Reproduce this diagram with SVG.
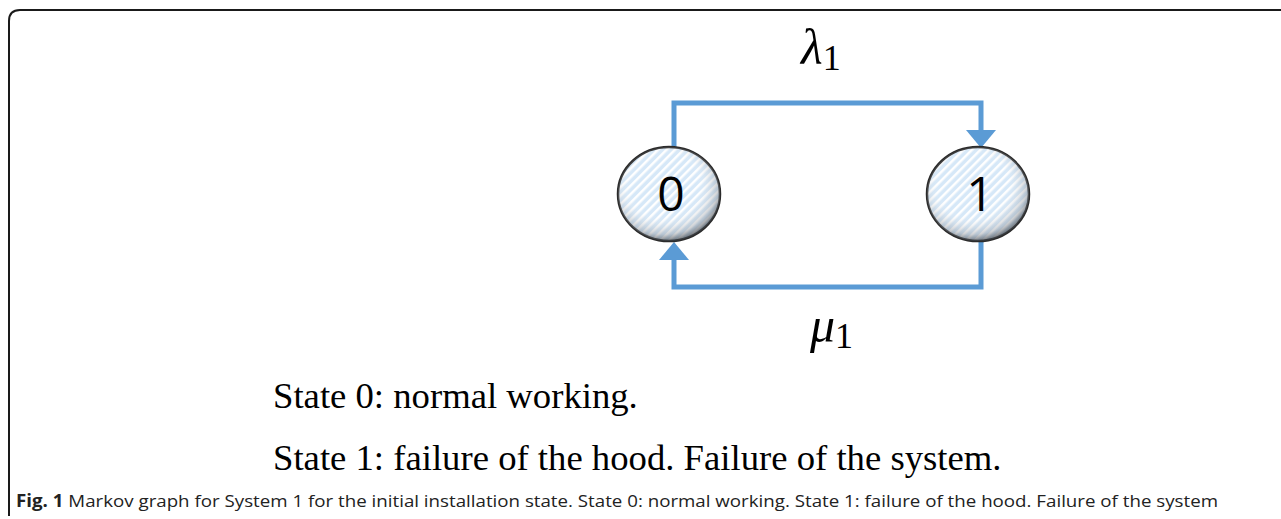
<svg xmlns="http://www.w3.org/2000/svg" width="1281" height="519" viewBox="0 0 1281 519">
<defs>
<style>
.conn{fill:none;stroke:#5B9BD5;stroke-width:5;stroke-linejoin:miter}
.head{fill:#5B9BD5}
.node{fill:url(#hatch);stroke:#2b2b2b;stroke-width:2.5}
.shade{fill:url(#shade)}
.num{font-family:"Open Sans","Liberation Sans",sans-serif;font-size:48px;fill:#000;text-anchor:middle}
.math{font-family:"Liberation Serif",serif;font-style:italic;font-size:50px;fill:#000}
.sub{font-family:"Liberation Serif",serif;font-size:36px;fill:#000}
.body{font-family:"Liberation Serif",serif;font-size:36.7px;fill:#000}
.cap{font-family:"Open Sans","Liberation Sans",sans-serif;font-size:17px;fill:#222}
</style>
<pattern id="hatch" patternUnits="userSpaceOnUse" width="6" height="6" patternTransform="rotate(-45)">
<rect width="6" height="6" fill="#d6e8f8"/>
<rect width="6" height="2.5" fill="#ffffff"/>
</pattern>
<radialGradient id="shade" cx="0.45" cy="0.4" r="0.6">
<stop offset="0.55" stop-color="#ffffff" stop-opacity="0"/>
<stop offset="0.88" stop-color="#8a9098" stop-opacity="0.4"/>
<stop offset="1" stop-color="#3f444a" stop-opacity="0.7"/>
</radialGradient>
</defs>
<rect width="1281" height="519" fill="#ffffff"/>
<path d="M9,516 L9,21 Q9,10 20,10 L1281,10" fill="none" stroke="#1a1a1a" stroke-width="2"/>
<g id="connectors">
<path class="conn" d="M674,150 L674,103 L981,103 L981,132"/>
<polygon class="head" points="966,130 996,130 981,148"/>
<path class="conn" d="M981,240 L981,287 L674,287 L674,258"/>
<polygon class="head" points="659,260 689,260 674,242"/>
</g>
<g id="node0">
<ellipse class="node" cx="669" cy="194" rx="51" ry="47"/>
<ellipse class="shade" cx="669" cy="194" rx="51" ry="47"/>
<text class="num" x="671" y="211">0</text>
</g>
<g id="node1">
<ellipse class="node" cx="978" cy="194" rx="51" ry="47"/>
<ellipse class="shade" cx="978" cy="194" rx="51" ry="47"/>
<text class="num" x="980" y="211">1</text>
</g>
<g id="label-lambda">
<text class="math" x="801" y="64">λ<tspan class="sub" font-style="normal" dy="6">1</tspan></text>
</g>
<g id="label-mu">
<text class="math" x="810" y="342">μ<tspan class="sub" font-style="normal" dy="6">1</tspan></text>
</g>
<text class="body" x="273" y="408">State 0: normal working.</text>
<text class="body" x="273" y="470">State 1: failure of the hood. Failure of the system.</text>
<text class="cap" x="16" y="507" textLength="1202" lengthAdjust="spacingAndGlyphs"><tspan font-weight="bold">Fig. 1</tspan> Markov graph for System 1 for the initial installation state. State 0: normal working. State 1: failure of the hood. Failure of the system</text>
</svg>
